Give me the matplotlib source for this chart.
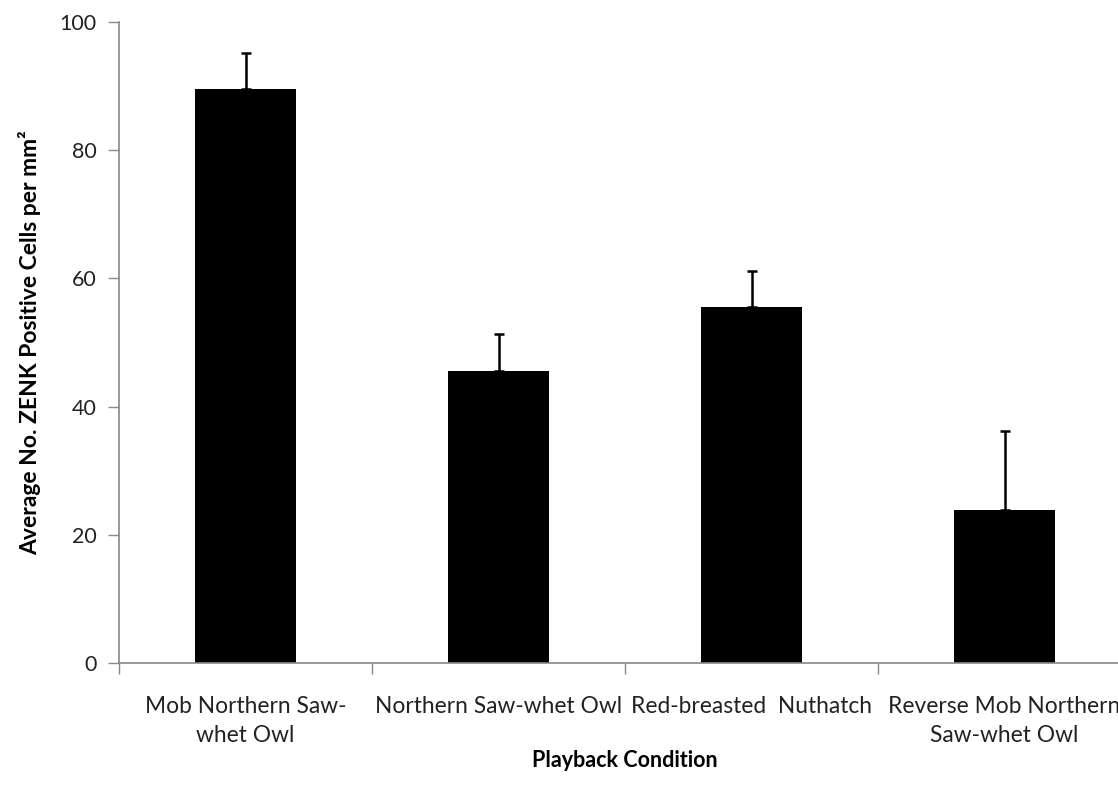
import matplotlib
matplotlib.use("Agg")
import matplotlib.pyplot as plt
import numpy as np

plt.rcParams['font.family'] = ['Lato', 'DejaVu Sans']

categories = ["Mob Northern Saw-\nwhet Owl", "Northern Saw-whet Owl",
              "Red-breasted  Nuthatch", "Reverse Mob Northern\nSaw-whet Owl"]
means = [89.5, 45.5, 55.5, 23.8]
errors = [5.7, 5.8, 5.7, 12.4]

fig = plt.figure(figsize=(11.18, 7.99), dpi=100)
# axes run past the right edge of the picture, as in the original
ax = fig.add_axes([119/1118, 136/799, 1012/1118, 641/799])

x = np.arange(len(categories))
ax.bar(x, means, width=0.4, color='black', zorder=2)
ax.errorbar(x, means, yerr=[np.zeros(len(errors)), errors], fmt='none',
            ecolor='black', elinewidth=1.8, capsize=3.5, capthick=1.8, zorder=3)

ax.set_xlim(-0.5, len(categories) - 0.5)
ax.set_ylim(0, 100)
ax.set_yticks(np.arange(0, 101, 20))

# tick marks between categories, labels at the centres
ax.set_xticks(np.arange(-0.5, len(categories), 1.0))
ax.set_xticklabels([])
ax.set_xticks(x, minor=True)
ax.set_xticklabels(categories, minor=True, fontsize=16.4, color='#222222',
                   linespacing=1.45)
ax.tick_params(axis='x', which='minor', length=0, pad=24)
ax.tick_params(axis='x', which='major', length=8, width=1, color='#888888', direction='out')
ax.tick_params(axis='y', length=8, width=1, color='#888888', labelsize=15.5,
               labelcolor='#222222', pad=8)

for side in ['top', 'right']:
    ax.spines[side].set_visible(False)
for side in ['left', 'bottom']:
    ax.spines[side].set_color('#888888')
    ax.spines[side].set_linewidth(1.2)

ax.set_ylabel("Average No. ZENK Positive Cells per mm\u00b2", fontsize=16.5,
              fontweight='bold', labelpad=13)
ax.set_xlabel("Playback Condition", fontsize=15.5, fontweight='bold', labelpad=3)

fig.savefig("out.png", dpi=100)
